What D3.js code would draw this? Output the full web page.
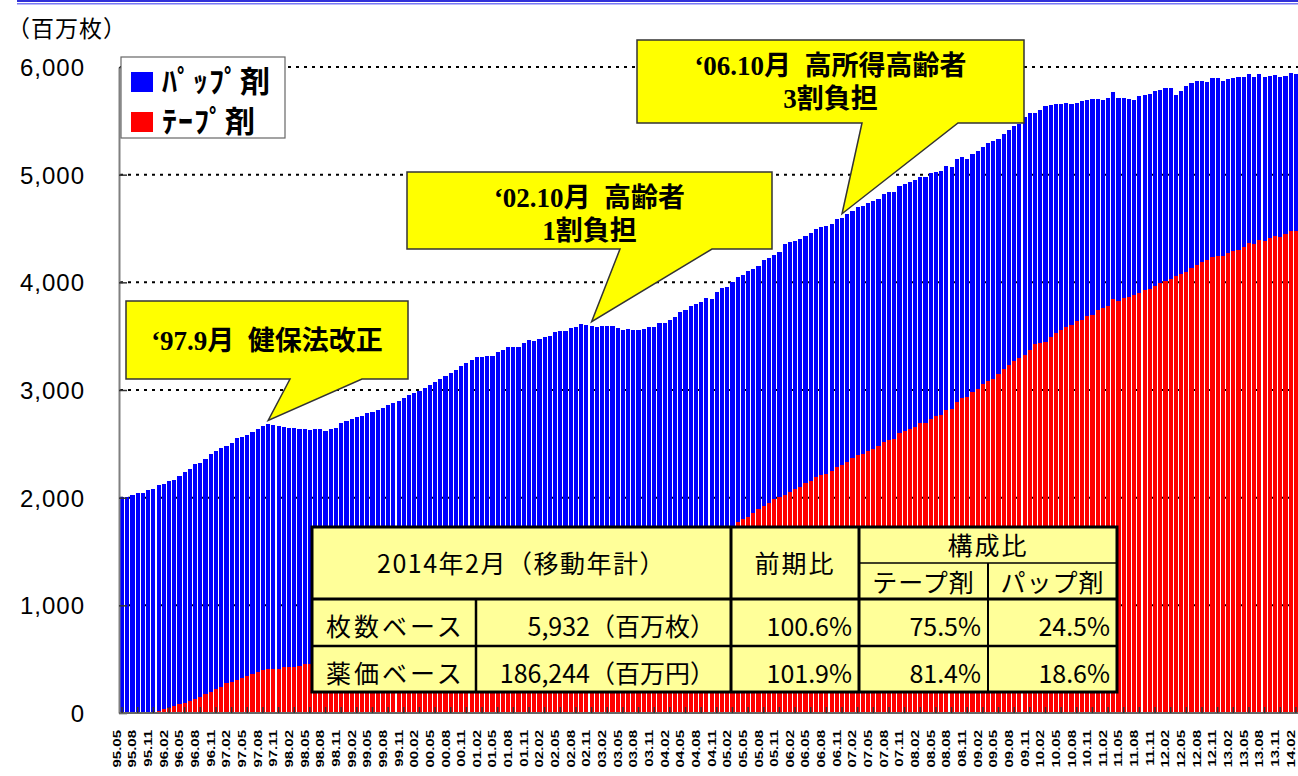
<!DOCTYPE html>
<html>
<head>
<meta charset="utf-8">
<script src="https://cdn.jsdelivr.net/npm/d3@7"></script>
<style>
  body { margin: 0; background: #fff; }
  svg { display: block; }
</style>
</head>
<body>
<script>
// months: 1995.05 .. 2014.02 (moving annual totals)
var startYear = 1995, startMonth = 5, nMonths = 226;
var months = [];
for (var k = 0; k < nMonths; k++) {
  var m = startMonth - 1 + k;
  var yy = (startYear + Math.floor(m / 12)) % 100;
  var mm = (m % 12) + 1;
  months.push((yy < 10 ? "0" : "") + yy + "." + (mm < 10 ? "0" : "") + mm);
}

// total (pap + tape), million sheets
var totalValues = [
  2009, 2009, 2025, 2046, 2046, 2071, 2080, 2118, 2127, 2158,
  2164, 2201, 2241, 2266, 2313, 2319, 2359, 2402, 2433, 2464,
  2483, 2505, 2551, 2566, 2582, 2607, 2635, 2666, 2681, 2675,
  2666, 2653, 2650, 2650, 2641, 2641, 2631, 2641, 2641, 2622,
  2641, 2650, 2697, 2712, 2728, 2746, 2758, 2789, 2799, 2814,
  2830, 2861, 2882, 2898, 2923, 2953, 2970, 2990, 3020, 3050,
  3070, 3100, 3130, 3160, 3190, 3220, 3250, 3280, 3303, 3303,
  3316, 3316, 3353, 3371, 3399, 3399, 3399, 3436, 3464, 3455,
  3474, 3495, 3501, 3539, 3548, 3548, 3576, 3588, 3613, 3607,
  3597, 3588, 3597, 3597, 3597, 3579, 3557, 3566, 3557, 3557,
  3566, 3588, 3588, 3625, 3625, 3650, 3681, 3727, 3743, 3783,
  3796, 3820, 3857, 3848, 3913, 3950, 3960, 4006, 4046, 4068,
  4105, 4127, 4152, 4207, 4223, 4254, 4285, 4353, 4378, 4387,
  4402, 4430, 4461, 4492, 4517, 4523, 4542, 4588, 4600, 4635,
  4663, 4703, 4709, 4740, 4755, 4771, 4817, 4836, 4836, 4895,
  4916, 4932, 4950, 4981, 4981, 5012, 5022, 5034, 5080, 5071,
  5143, 5164, 5145, 5192, 5220, 5260, 5291, 5313, 5331, 5375,
  5415, 5452, 5468, 5533, 5570, 5576, 5600, 5640, 5650, 5660,
  5655, 5665, 5660, 5670, 5680, 5690, 5700, 5703, 5693, 5712,
  5768, 5712, 5712, 5703, 5693, 5731, 5740, 5749, 5777, 5786,
  5805, 5805, 5740, 5777, 5823, 5851, 5870, 5870, 5861, 5898,
  5898, 5870, 5888, 5898, 5907, 5907, 5935, 5907, 5935, 5907,
  5916, 5926, 5907, 5916, 5944, 5932
];

// tape (テープ剤), million sheets
var tapeValues = [
  0, 0, 0, 0, 0, 0, 0, 19, 34, 50,
  65, 81, 96, 115, 130, 152, 176, 198, 226, 245,
  276, 291, 306, 328, 344, 362, 384, 396, 406, 406,
  409, 424, 424, 424, 439, 455, 455, 468, 480, 489,
  502, 515, 528, 544, 556, 569, 586, 598, 611, 626,
  638, 654, 667, 679, 694, 708, 722, 735, 749, 766,
  779, 793, 811, 824, 838, 857, 869, 884, 902, 914,
  931, 946, 958, 976, 991, 1004, 1021, 1036, 1049, 1066,
  1081, 1094, 1112, 1124, 1141, 1156, 1169, 1186, 1201, 1213,
  1232, 1249, 1264, 1282, 1298, 1313, 1331, 1348, 1366, 1383,
  1401, 1418, 1437, 1455, 1474, 1493, 1511, 1530, 1549, 1568,
  1588, 1607, 1627, 1648, 1668, 1689, 1712, 1737, 1777, 1799,
  1823, 1860, 1892, 1925, 1948, 1985, 2009, 2025, 2055, 2083,
  2099, 2133, 2158, 2195, 2210, 2223, 2251, 2288, 2303, 2334,
  2371, 2396, 2405, 2433, 2452, 2480, 2520, 2535, 2545, 2603,
  2619, 2638, 2659, 2690, 2697, 2731, 2761, 2771, 2814, 2821,
  2888, 2928, 2938, 2984, 3006, 3056, 3084, 3102, 3149, 3195,
  3232, 3269, 3300, 3325, 3371, 3427, 3434, 3446, 3489, 3526,
  3557, 3582, 3604, 3641, 3650, 3687, 3694, 3743, 3764, 3780,
  3842, 3822, 3850, 3865, 3880, 3905, 3925, 3940, 3965, 3990,
  4010, 4035, 4060, 4075, 4100, 4130, 4160, 4185, 4210, 4232,
  4244, 4244, 4269, 4291, 4300, 4325, 4365, 4359, 4393, 4384,
  4412, 4430, 4421, 4449, 4474, 4479
];

var yTicks = [0, 1000, 2000, 3000, 4000, 5000, 6000];
var seriesNames = ["ﾊﾟｯﾌﾟ剤", "ﾃｰﾌﾟ剤"];
var seriesColors = ["#0000ff", "#ff0000"];

// callouts: month index the arrow points at, text lines
var callouts = [
  {idx: 28, lines: ["‘97.9月\u2002健保法改正"], box: [126, 301, 408, 379], base: [290, 362]},
  {idx: 90, lines: ["‘02.10月\u2002高齢者", "1割負担"], box: [407, 172, 772, 249], base: [620, 712]},
  {idx: 138, lines: ["‘06.10月\u2002高所得高齢者", "3割負担"], box: [637, 40, 1024, 123], base: [862, 958]}
];

var tableTitle = "2014年2月（移動年計）";
var tableHead = ["前期比", "構成比", "テープ剤", "パップ剤"];
var tableRows = [
  ["枚数ベース", "5,932（百万枚）", "100.6%", "75.5%", "24.5%"],
  ["薬価ベース", "186,244（百万円）", "101.9%", "81.4%", "18.6%"]
];

var W = 1298, H = 776;
var svg = d3.select("body").append("svg")
    .attr("width", W)
    .attr("height", H);

var jp = "'Noto Sans CJK JP', 'Noto Sans', sans-serif";

// top rule
svg.append("rect").attr("x", 17).attr("y", 0).attr("width", W - 17).attr("height", 2).attr("fill", "#3030d8");
svg.append("rect").attr("x", 17).attr("y", 3).attr("width", W - 17).attr("height", 1.5).attr("fill", "#7878f4");

var x = d3.scaleBand().domain(d3.range(nMonths)).range([120, 1298]).paddingInner(0.2);
var y = d3.scaleLinear().domain([0, 6000]).range([713, 67]);

// dotted gridlines behind the bars
svg.append("g")
    .selectAll("line")
    .data(yTicks.slice(1))
    .enter().append("line")
    .attr("x1", 120).attr("x2", W)
    .attr("y1", function(d) { return y(d); })
    .attr("y2", function(d) { return y(d); })
    .attr("stroke", "#000")
    .attr("stroke-width", 2)
    .attr("stroke-dasharray", "3,5");

// stacked bars
var data = months.map(function(m, i) {
  return {i: i, tape: tapeValues[i], pap: totalValues[i] - tapeValues[i]};
});
var stack = d3.stack().keys(["tape", "pap"]);
var layers = stack(data);
var colorOf = {tape: "#ff0000", pap: "#0000ff"};

svg.append("g")
    .selectAll("g")
    .data(layers)
    .enter().append("g")
    .attr("fill", function(d) { return colorOf[d.key]; })
    .selectAll("rect")
    .data(function(d) { return d; })
    .enter().append("rect")
    .attr("shape-rendering", "crispEdges")
    .attr("x", function(d) { return x(d.data.i); })
    .attr("width", x.bandwidth())
    .attr("y", function(d) { return y(d[1]); })
    .attr("height", function(d) { return y(d[0]) - y(d[1]); });

// y axis
var yAxis = svg.append("g")
    .attr("transform", "translate(119,0)")
    .call(d3.axisLeft(y).tickValues(yTicks).tickFormat(d3.format(",")).tickSize(-8).tickSizeOuter(0).tickPadding(34));
yAxis.select(".domain").attr("stroke", "#808080").attr("stroke-width", 2);
yAxis.selectAll(".tick line").attr("stroke", "#333").attr("stroke-width", 1.5);
yAxis.selectAll(".tick text")
    .attr("font-family", "'Liberation Sans', Arial, sans-serif")
    .attr("font-size", 24)
    .attr("letter-spacing", 1)
    .attr("fill", "#000")
    .attr("dy", "0.35em");

svg.append("text")
    .attr("x", 7).attr("y", 37)
    .attr("font-family", jp)
    .attr("font-size", 23)
    .attr("letter-spacing", 1)
    .text("（百万枚）");

// x axis, labels rotated and a bit condensed like the original
var xTickIdx = d3.range(0, nMonths, 3);
var xAxis = svg.append("g")
    .attr("transform", "translate(0,713)")
    .call(d3.axisBottom(x).tickValues(xTickIdx).tickFormat(function(i) { return months[i]; }).tickSize(-6).tickSizeOuter(0));
xAxis.select(".domain").attr("stroke", "#666").attr("stroke-width", 2).attr("d", "M119,0H" + W);
xAxis.selectAll(".tick line").attr("stroke", "#333").attr("stroke-width", 1.5);
xAxis.selectAll(".tick text")
    .attr("font-family", "'Liberation Sans', Arial, sans-serif")
    .attr("font-weight", "bold")
    .attr("font-size", 15)
    .attr("fill", "#000")
    .attr("transform", "rotate(-90) scale(1,0.72)")
    .attr("text-anchor", "end")
    .attr("x", -17)
    .attr("y", -7)
    .attr("dy", "0.35em");

// legend
var legend = svg.append("g");
legend.append("rect")
    .attr("x", 121).attr("y", 57).attr("width", 164).attr("height", 81)
    .attr("fill", "#fff").attr("stroke", "#666").attr("stroke-width", 1.2);
seriesNames.forEach(function(name, k) {
  legend.append("rect")
      .attr("x", 131).attr("y", 72 + k * 40).attr("width", 22).attr("height", 20)
      .attr("fill", seriesColors[k]);
  legend.append("text")
      .attr("x", 162).attr("y", 92 + k * 40)
      .attr("font-family", jp)
      .attr("font-weight", "bold")
      .attr("font-size", 30)
      .attr("letter-spacing", 1)
      .text(name);
});

// callouts
callouts.forEach(function(c) {
  var tipX = x(c.idx) + x.bandwidth() / 2;
  var tipY = y(totalValues[c.idx]) - 4;
  var b = c.box;
  var p = d3.path();
  p.moveTo(b[0], b[1]);
  p.lineTo(b[2], b[1]);
  p.lineTo(b[2], b[3]);
  p.lineTo(c.base[1], b[3]);
  p.lineTo(tipX, tipY);
  p.lineTo(c.base[0], b[3]);
  p.lineTo(b[0], b[3]);
  p.closePath();
  svg.append("path")
      .attr("d", p.toString())
      .attr("fill", "#ffff00")
      .attr("stroke", "#333")
      .attr("stroke-width", 1.5);
  var cx = (b[0] + b[2]) / 2;
  var n = c.lines.length;
  var firstBase = n == 1 ? (b[1] + b[3]) / 2 + 10 : b[1] + 35;
  c.lines.forEach(function(t, j) {
    svg.append("text")
        .attr("x", cx).attr("y", firstBase + j * 33)
        .attr("text-anchor", "middle")
        .attr("font-family", "'Liberation Serif', 'Noto Sans CJK JP', serif")
        .attr("font-weight", "bold")
        .attr("font-size", 27)
        .text(t);
  });
});

// summary table
var cols = [312, 476, 731, 859, 988, 1117];
var rows = [527, 563, 599, 646, 692];
var tbl = svg.append("g");
tbl.append("rect")
    .attr("x", cols[0]).attr("y", rows[0])
    .attr("width", cols[5] - cols[0]).attr("height", rows[4] - rows[0])
    .attr("fill", "#ffff99");

function tline(x1, y1, x2, y2, w) {
  tbl.append("line")
      .attr("x1", x1).attr("y1", y1).attr("x2", x2).attr("y2", y2)
      .attr("stroke", "#000").attr("stroke-width", w);
}
tline(cols[3], rows[1], cols[5], rows[1], 1.5);
tline(cols[0], rows[2], cols[5], rows[2], 3);
tline(cols[0], rows[3], cols[5], rows[3], 2.5);
tline(cols[1], rows[2], cols[1], rows[4], 2.5);
tline(cols[2], rows[0], cols[2], rows[4], 3);
tline(cols[3], rows[0], cols[3], rows[4], 3);
tline(cols[4], rows[1], cols[4], rows[4], 2);
tbl.append("rect")
    .attr("x", cols[0]).attr("y", rows[0])
    .attr("width", cols[5] - cols[0]).attr("height", rows[4] - rows[0])
    .attr("fill", "none").attr("stroke", "#000").attr("stroke-width", 3);

function ttext(t, xx, yy, anchor, ls) {
  tbl.append("text")
      .attr("x", xx).attr("y", yy)
      .attr("text-anchor", anchor)
      .attr("font-family", jp)
      .attr("font-size", 25)
      .attr("letter-spacing", ls || 0)
      .text(t);
}
ttext(tableTitle, (cols[0] + cols[2]) / 2, 573, "middle", 1.5);
ttext(tableHead[0], (cols[2] + cols[3]) / 2, 573, "middle", 2);
ttext(tableHead[1], (cols[3] + cols[5]) / 2, 555, "middle", 2);
ttext(tableHead[2], (cols[3] + cols[4]) / 2, 592, "middle", 1);
ttext(tableHead[3], (cols[4] + cols[5]) / 2, 592, "middle", 1);
var rowBase = [636, 683];
tableRows.forEach(function(r, k) {
  ttext(r[0], cols[0] + 14, rowBase[k], "start", 3);
  ttext(r[1], cols[2] - 16, rowBase[k], "end", 0);
  ttext(r[2], cols[3] - 7, rowBase[k], "end", 0);
  ttext(r[3], cols[4] - 7, rowBase[k], "end", 0);
  ttext(r[4], cols[5] - 7, rowBase[k], "end", 0);
});
</script>
</body>
</html>
